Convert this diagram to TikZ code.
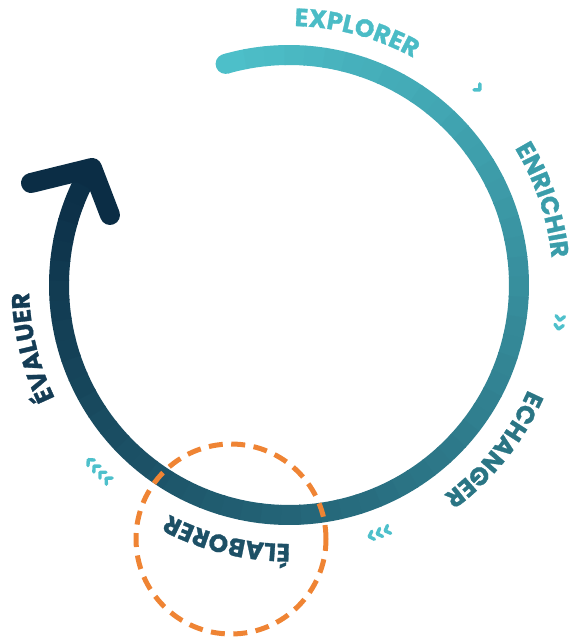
\documentclass[tikz,border=0pt]{standalone}
\usepackage{fontspec}
\setmainfont{Poppins}
\usetikzlibrary{decorations.text}
\definecolor{cstart}{HTML}{4DBFC9}
\definecolor{cend}{HTML}{0B2D45}
\definecolor{cexp}{HTML}{4BBCC6}
\definecolor{cenr}{HTML}{3A9DAA}
\definecolor{cech}{HTML}{2A7584}
\definecolor{cela}{HTML}{1D5066}
\definecolor{ceva}{HTML}{143C55}
\definecolor{cchev}{HTML}{4EC0CB}
\definecolor{corange}{HTML}{EF8434}
\newcommand\lblfont{\fontsize{25}{25}\selectfont\bfseries\addfontfeatures{FakeBold=1.2}}
\tikzset{
  chevline/.style={draw=cchev, line width=3.4pt, line cap=round, line join=round},
  headline/.style={draw=cend, line width=20pt, line cap=round, line join=round},
  focusring/.style={draw=corange, line width=5pt, dash pattern=on 14pt off 8.5pt}
}
% chevron group: #1 centre angle, #2 radius, #3 count
\newcommand\chevgroup[3]{%
  \foreach \k in {1,...,#3}{%
    \pgfmathsetmacro\ca{#1+((#3+1)/2-\k)*1.85}%
    \pgfmathsetmacro\rot{\ca-90}%
    \draw[chevline] (O) ++(\ca:#2) ++(\rot:-1.5) ++(\rot+90:4.3) -- ++(\rot-45:6) -- ++(\rot-135:6);
  }%
}
% label along the outside of the circle: #1 centre angle, #2 colour, #3 text, #4 baseline radius
\newcommand\arclabel[4]{%
  \path[decorate, decoration={text along path, text align=center,
      text={|\lblfont\color{#2}|#3}}]
    (O) ++(#1+30:#4) arc[start angle=#1+30, end angle=#1-30, radius=#4];
}
\begin{document}
\begin{tikzpicture}[x=1pt,y=1pt]
\useasboundingbox (0,0) rectangle (573,637);
\coordinate (O) at (289,352);
% gradient arc
\fill[cstart] (O) ++(106:230) circle (10);
\foreach \i in {0,...,63}{
  \pgfmathsetmacro\a{106-\i*4.95}
  \pgfmathsetmacro\b{\a-5.25}
  \pgfmathtruncatemacro\p{round(\i*100/63)}
  \draw[line width=20pt, draw=cend!\p!cstart] (O) ++(\a:230) arc[start angle=\a, end angle=\b, radius=230];
}
% arrow head
\coordinate (tip) at (92,469);
\coordinate (arm1) at (31,454);
\coordinate (arm2) at (110,422);
\draw[headline] (arm1) -- (tip) -- (arm2);
% labels
\arclabel{75}{cexp}{EXPLORER}{259}
\arclabel{18.5}{cenr}{ENRICHIR}{264}
\arclabel{-38.7}{cech}{ECHANGER}{261}
\arclabel{-103.7}{cela}{ÉLABORER}{259}
\arclabel{-166.3}{ceva}{ÉVALUER}{260}
% chevrons
\chevgroup{46.2}{273}{1}
\chevgroup{-7.8}{273}{2}
\chevgroup{-69.9}{264}{3}
\chevgroup{-135.6}{266}{4}
% orange dashed circle
\coordinate (F) at (231,98);
\draw[focusring] (F) circle (95);
\end{tikzpicture}
\end{document}
